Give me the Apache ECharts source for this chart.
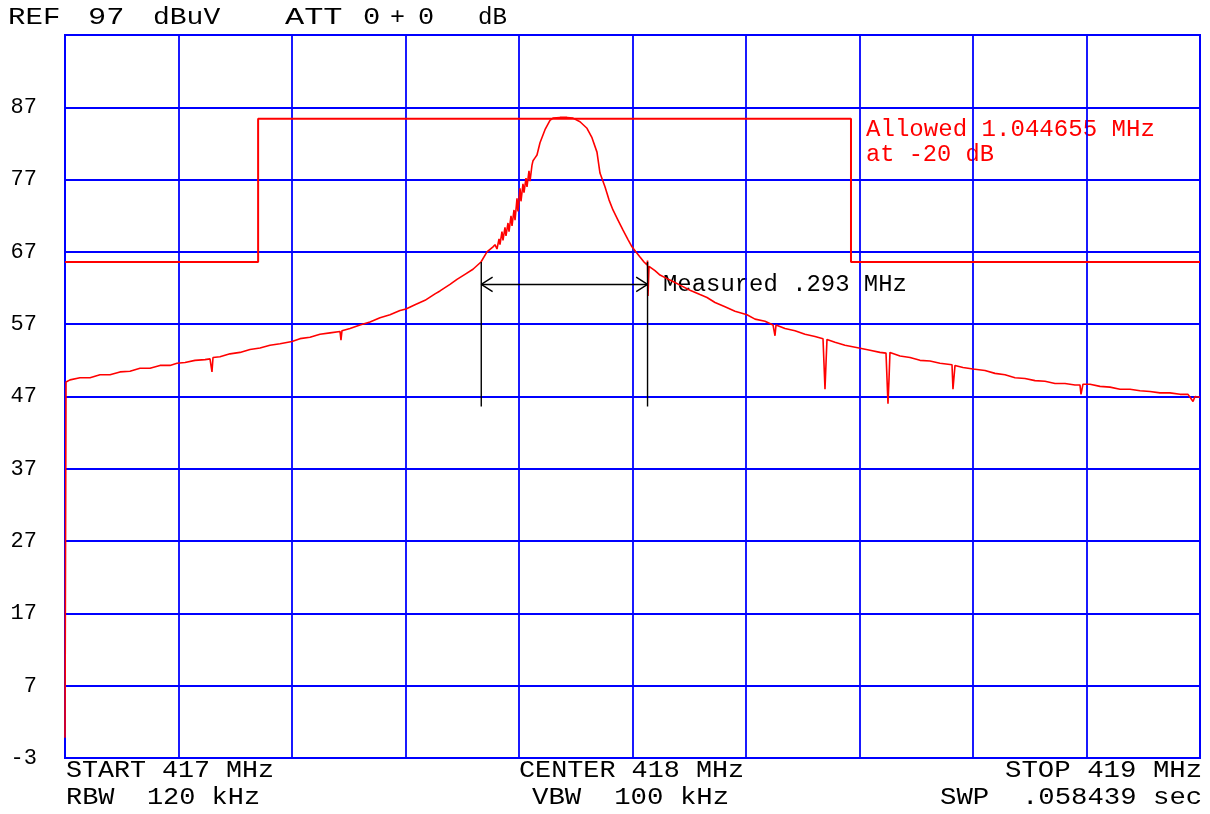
<!DOCTYPE html>
<html>
<head>
<meta charset="utf-8">
<style>
  html, body { margin: 0; padding: 0; background: #fff; }
  #chart { width: 1210px; height: 814px; }
</style>
<script src="https://cdn.jsdelivr.net/npm/echarts@6/dist/echarts.min.js"></script>
</head>
<body>
<div id="chart"></div>
<script>
// ---------------- DATA ----------------
const startMHz = 417, stopMHz = 419, stepMHz = 0.2;
const yMin = -3, yMax = 97, yStep = 10;

const traceFreq = [
  417.0000, 417.0009, 417.0018, 417.0088, 417.0264, 417.0441, 417.0617, 417.0793, 417.0969, 417.1145,
  417.1322, 417.1498, 417.1674, 417.1850, 417.1974, 417.2115, 417.2291, 417.2467, 417.2555, 417.2573,
  417.2590, 417.2608, 417.2731, 417.2907, 417.3084, 417.3260, 417.3436, 417.3612, 417.3789, 417.4000,
  417.4141, 417.4317, 417.4493, 417.4670, 417.4846, 417.4863, 417.4881, 417.5022, 417.5198, 417.5374,
  417.5551, 417.5727, 417.5903, 417.6009, 417.6167, 417.6344, 417.6520, 417.6608, 417.6784, 417.6907,
  417.7048, 417.7189, 417.7330, 417.7436, 417.7542,
  417.7577, 417.7612, 417.7648, 417.7665, 417.7700, 417.7718, 417.7753, 417.7771, 417.7806, 417.7824,
  417.7859, 417.7877, 417.7912, 417.7930, 417.7965, 417.7982, 417.8018, 417.8035, 417.8070, 417.8088,
  417.8123, 417.8141, 417.8176, 417.8194, 417.8229, 417.8247, 417.8282, 417.8317, 417.8370, 417.8458,
  417.8546, 417.8599, 417.8722, 417.8846, 417.8951, 417.9075, 417.9198, 417.9286, 417.9374, 417.9427,
  417.9515, 417.9586, 417.9656, 417.9744, 417.9833, 417.9921, 417.9991, 418.0062, 418.0132, 418.0203,
  418.0256, 418.0265, 418.0273, 418.0291, 418.0396, 418.0485, 418.0608, 418.0714, 418.0837, 418.1013,
  418.1189, 418.1313, 418.1454, 418.1630, 418.1806, 418.2018, 418.2159, 418.2335, 418.2476, 418.2511,
  418.2529, 418.2687, 418.2863, 418.3040, 418.3216, 418.3357, 418.3374, 418.3392, 418.3410, 418.3427,
  418.3568, 418.3744, 418.3991, 418.4185, 418.4361, 418.4467, 418.4485, 418.4502, 418.4520, 418.4537,
  418.4714, 418.4890, 418.5066, 418.5242, 418.5418, 418.5630, 418.5647, 418.5665, 418.5683, 418.5824,
  418.6000, 418.6211, 418.6388, 418.6564, 418.6740, 418.6916, 418.7093, 418.7269, 418.7445, 418.7621,
  418.7797, 418.7885, 418.7903, 418.7921, 418.7938, 418.8062, 418.8238, 418.8414, 418.8590, 418.8767,
  418.8943, 418.9119, 418.9295, 418.9471, 418.9648, 418.9789, 418.9877, 418.9912, 419.0000
];
const traceLevel = [
  -0.2, 24.7, 49.0, 49.3, 49.6, 49.6, 50.0, 50.0, 50.4, 50.5,
  50.9, 50.9, 51.3, 51.3, 51.6, 51.7, 52.0, 52.1, 52.2, 52.2,
  50.4, 52.4, 52.5, 52.9, 53.1, 53.5, 53.7, 54.1, 54.3, 54.6,
  55.0, 55.2, 55.6, 55.8, 56.0, 54.8, 56.1, 56.4, 56.9, 57.3,
  57.9, 58.3, 58.9, 59.1, 59.7, 60.3, 61.2, 61.6, 62.5, 63.2,
  63.9, 64.6, 65.6, 67.0, 67.7,
  68.0, 67.4, 68.8, 68.0, 69.8, 68.6, 70.4, 69.2, 71.0, 69.8,
  72.0, 70.6, 72.8, 71.4, 74.4, 72.6, 75.8, 74.0, 76.4, 75.2,
  77.2, 76.0, 78.2, 76.8, 79.0, 79.6, 80.0, 80.4, 82.1, 83.9,
  85.2, 85.5, 85.6, 85.6, 85.5, 85.0, 84.1, 82.8, 80.8, 77.9,
  76.0, 74.2, 72.8, 71.4, 70.0, 68.7, 67.7, 67.0, 66.3, 65.6,
  65.2, 65.8, 60.9, 65.0, 64.4, 63.8, 63.3, 62.9, 62.4, 61.7,
  61.1, 60.7, 60.0, 59.4, 58.8, 58.3, 57.7, 57.4, 56.9, 55.4,
  56.9, 56.4, 56.1, 55.6, 55.3, 55.0, 51.6, 48.0, 51.6, 54.9,
  54.5, 54.1, 53.7, 53.4, 53.1, 53.0, 49.4, 46.0, 49.4, 53.1,
  52.6, 52.4, 52.0, 51.9, 51.6, 51.4, 48.0, 48.0, 51.3, 51.0,
  50.8, 50.6, 50.2, 50.0, 49.6, 49.5, 49.2, 49.1, 48.8, 48.8,
  48.6, 48.6, 47.3, 47.3, 48.7, 48.7, 48.4, 48.3, 48.0, 48.0,
  47.8, 47.7, 47.5, 47.5, 47.3, 47.3, 46.3, 47.0, 46.9
];

// Allowed-bandwidth mask (−20 dB)
const maskFreq  = [417.0000, 417.3403, 417.3403, 418.3850, 418.3850, 419.0000];
const maskLevel = [65.6, 65.6, 85.4, 85.4, 65.6, 65.6];

// Measured bandwidth markers
const measLeftMHz = 417.7335, measRightMHz = 418.0265;
const measBottom = 45.6, measTop = 65.6, measArrowLevel = 62.5;
const arrowDx = 0.020, arrowDy = 1.0;

// Texts
const headerTokens = [
  ["REF", 8, 58], ["97", 88, 122], ["dBuV", 153, 218], ["ATT", 285, 340], ["0", 363, 378], ["+", 390, 403], ["0", 418, 432], ["dB", 478, 505]
];
const infoTexts = [
  ["START 417 MHz", 66, 272, 771], ["CENTER 418 MHz", 519, 742, 771], ["STOP 419 MHz", 1005, 1200, 771],
  ["RBW  120 kHz", 66, 258, 798], ["VBW  100 kHz", 532, 727, 798], ["SWP  .058439 sec", 940, 1200, 798]
];
const allowedTexts = [["Allowed 1.044655 MHz", 866, 1153, 130], ["at -20 dB", 866, 992, 155]];
const measuredText = ["Measured .293 MHz", 663, 905, 285];

// ---------------- CHART ----------------
const FONT_FAMILY = '"Liberation Mono", "DejaVu Sans Mono", monospace';
const FONT_SIZE = 23;
const fontStr = FONT_SIZE + 'px ' + FONT_FAMILY;
const ctx = document.createElement('canvas').getContext('2d');
ctx.font = fontStr;

function textEl(str, x1, x2, y, color) {
  const w = ctx.measureText(str).width;
  const inkW = w - FONT_SIZE * 0.08;
  return {
    type: 'text', x: x1, y: y, scaleX: (x2 - x1) / inkW, silent: true,
    style: { text: str, font: fontStr, fill: color, textAlign: 'left', textVerticalAlign: 'middle', align: 'left', verticalAlign: 'middle' }
  };
}

const graphics = [];
headerTokens.forEach(t => graphics.push(textEl(t[0], t[1], t[2], 18, '#000')));
infoTexts.forEach(t => graphics.push(textEl(t[0], t[1], t[2], t[3], '#000')));
allowedTexts.forEach(t => graphics.push(textEl(t[0], t[1], t[2], t[3], '#ff0000')));
graphics.push(textEl(measuredText[0], measuredText[1], measuredText[2], measuredText[3], '#000'));

const trace = traceFreq.map((f, i) => [f, traceLevel[i]]);
const mask = maskFreq.map((f, i) => [f, maskLevel[i]]);
const blk = { color: '#000', width: 1.4 };

function lineSeries(data, style, z) {
  return { type: 'line', data: data, symbol: 'none', lineStyle: style, silent: true, z: z, animation: false };
}

const chart = echarts.init(document.getElementById('chart'), null, { renderer: 'canvas' });
chart.setOption({
  animation: false,
  backgroundColor: '#fff',
  grid: { left: 65, right: 10, top: 35, bottom: 56, show: true, borderColor: '#0000ff', borderWidth: 2, backgroundColor: 'transparent' },
  xAxis: {
    type: 'value', min: startMHz, max: stopMHz, interval: stepMHz,
    axisLabel: { show: false }, axisTick: { show: false },
    axisLine: { show: true, onZero: false, lineStyle: { color: '#0000ff', width: 2 } },
    splitLine: { show: true, lineStyle: { color: '#0000ff', width: 1.8 } }
  },
  yAxis: {
    type: 'value', min: yMin, max: yMax, interval: yStep,
    axisTick: { show: false },
    axisLine: { show: true, onZero: false, lineStyle: { color: '#0000ff', width: 2 } },
    splitLine: { show: true, lineStyle: { color: '#0000ff', width: 1.8 } },
    axisLabel: {
      margin: 28, color: '#000', fontFamily: FONT_FAMILY, fontSize: 22,
      formatter: v => (Math.round(v) === yMax ? '' : String(Math.round(v)))
    }
  },
  series: [
    lineSeries(mask, { color: '#ff0000', width: 2 }, 3),
    lineSeries(trace, { color: '#ff0000', width: 1.6 }, 4),
    lineSeries([[measLeftMHz, measBottom], [measLeftMHz, measTop]], blk, 5),
    lineSeries([[measRightMHz, measBottom], [measRightMHz, measTop]], blk, 5),
    lineSeries([[measLeftMHz, measArrowLevel], [measRightMHz, measArrowLevel]], blk, 5),
    lineSeries([[measLeftMHz + arrowDx, measArrowLevel + arrowDy], [measLeftMHz, measArrowLevel], [measLeftMHz + arrowDx, measArrowLevel - arrowDy]], blk, 5),
    lineSeries([[measRightMHz - arrowDx, measArrowLevel + arrowDy], [measRightMHz, measArrowLevel], [measRightMHz - arrowDx, measArrowLevel - arrowDy]], blk, 5)
  ],
  graphic: graphics
});
</script>
</body>
</html>
